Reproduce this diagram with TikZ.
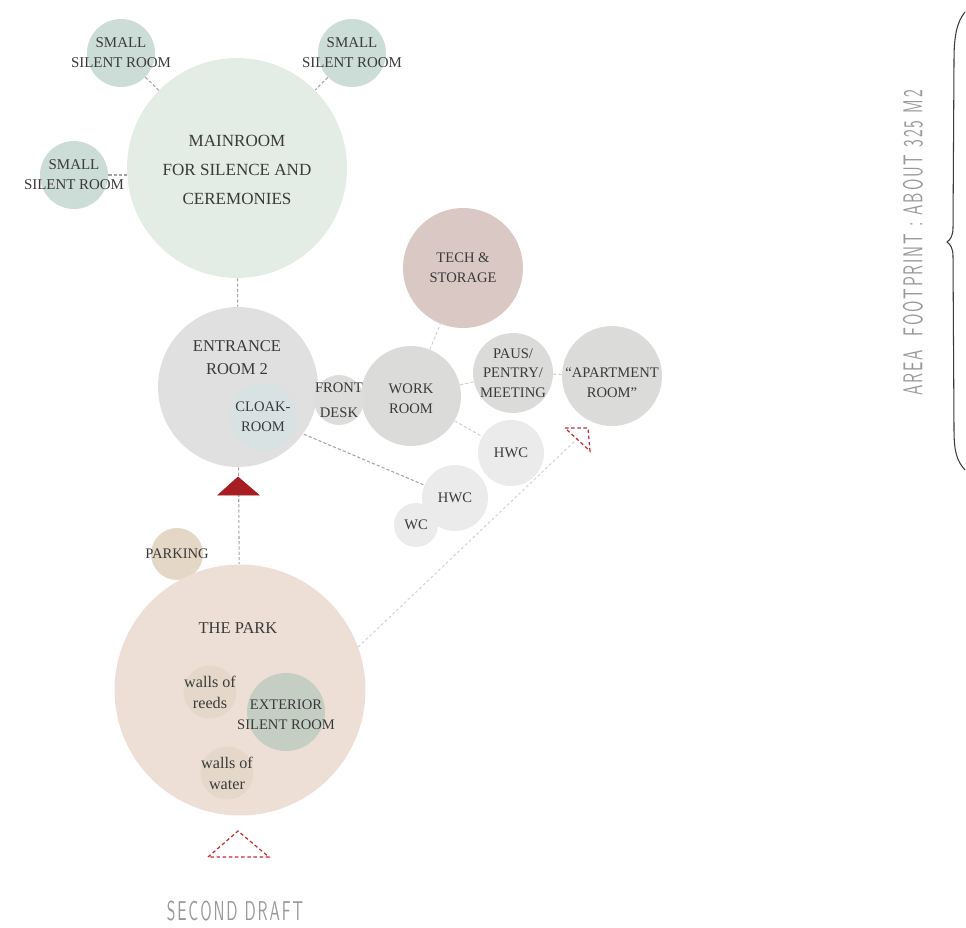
\documentclass[tikz,border=0pt]{standalone}
\usepackage{fontspec}
\setmainfont{Liberation Serif}
\newfontfamily\draftfont{lmsans10-regular.otf}[LetterSpace=12]
\usetikzlibrary{backgrounds}

\definecolor{ink}{HTML}{3A3A3A}
\definecolor{silentgreen}{HTML}{CCDCD6}
\definecolor{maingreen}{HTML}{E3ECE5}
\definecolor{entrancegrey}{HTML}{E0E0E0}
\definecolor{cloakblue}{HTML}{D9E2E3}
\definecolor{deskgrey}{HTML}{DDDEDC}
\definecolor{workgrey}{HTML}{DBDCD9}
\definecolor{techrose}{HTML}{D9C8C4}
\definecolor{wcgrey}{HTML}{EBEBEB}
\definecolor{parkbeige}{HTML}{EDDFD5}
\definecolor{parkingsand}{HTML}{E5D7C5}
\definecolor{wallsand}{HTML}{E5D8CA}
\definecolor{extgreen}{HTML}{C4CEC3}
\definecolor{entryred}{HTML}{A61E22}
\definecolor{markred}{HTML}{C42A30}
\definecolor{linkgrey}{HTML}{A3A3A3}
\definecolor{faintgrey}{HTML}{D2D2D2}
\definecolor{draftgrey}{HTML}{999999}

\begin{document}
\begin{tikzpicture}[x=0.02cm, y=-0.02cm,
  room/.style={circle, inner sep=0pt, minimum size=#1*0.04cm},
  maintxt/.style={font=\fontsize{9.7}{16.4}\selectfont, align=center, text=ink},
  bigtxt/.style={font=\fontsize{9.4}{13}\selectfont, align=center, text=ink},
  silenttxt/.style={font=\fontsize{8.5}{11.3}\selectfont, align=center, text=ink},
  roomtxt/.style={font=\fontsize{8.3}{11.2}\selectfont, align=center, text=ink},
  wallstxt/.style={font=\fontsize{9.2}{11.9}\selectfont, align=center, text=ink},
  drafttxt/.style={font=\draftfont\fontsize{15.5}{18}\selectfont, text=draftgrey, inner sep=0pt},
  link/.style={draw=linkgrey, line width=0.6pt, dash pattern=on 1.8pt off 1.2pt},
  faint/.style={draw=faintgrey, line width=0.6pt, dash pattern=on 1.8pt off 1.2pt},
  redmarkline/.style={draw=markred, line width=0.7pt, dash pattern=on 2pt off 1.5pt}]

\useasboundingbox (0,0) rectangle (966,927);

% silence rooms
\node[room=110, fill=maingreen, label={[maintxt, yshift=-0.04cm]center:MAINROOM\\FOR SILENCE AND\\CEREMONIES}] (main) at (237,168) {};
\node[room=34, fill=silentgreen, label={[silenttxt]center:SMALL\\SILENT ROOM}] (silentA) at (121,53) {};
\node[room=34, fill=silentgreen, label={[silenttxt]center:SMALL\\SILENT ROOM}] (silentB) at (352,53) {};
\node[room=34, fill=silentgreen, label={[silenttxt]center:SMALL\\SILENT ROOM}] (silentC) at (74,175) {};

% entrance and service rooms
\node[room=80, fill=entrancegrey] (entrance) at (238,387) {};
\node[bigtxt] (entrancetxt) at (237,358) {ENTRANCE\\ROOM 2};
\node[room=33.5, fill=cloakblue, label={[roomtxt]center:CLOAK-\\ROOM}] (cloak) at (263,417) {};
\node[room=50, fill=workgrey, label={[roomtxt, yshift=-0.05cm]center:WORK\\ROOM}] (work) at (411,396) {};
\node[room=25, fill=deskgrey, label={[roomtxt, font=\fontsize{8.3}{14.2}\selectfont]center:FRONT\\DESK}] (desk) at (339,400) {};
\node[room=60, fill=techrose, label={[roomtxt]center:TECH \&\\STORAGE}] (tech) at (463,268) {};
\node[room=40, fill=workgrey, label={[roomtxt]center:PAUS/\\PENTRY/\\MEETING}] (paus) at (513,373) {};
\node[room=50, fill=workgrey, label={[roomtxt, yshift=-0.14cm]center:``APARTMENT\\ROOM''}] (apartment) at (612,376) {};
\node[room=22, fill=wcgrey, label={[roomtxt]center:WC}] (wc) at (416,525) {};
\node[room=33, fill=wcgrey, label={[roomtxt]center:HWC}] (hwcA) at (511,453) {};
\node[room=33, fill=wcgrey, label={[roomtxt]center:HWC}] (hwcB) at (455,498) {};

% outside
\node[room=26, fill=parkingsand, label={[roomtxt]center:PARKING}] (parking) at (177,554) {};
\node[room=125.5, fill=parkbeige] (park) at (240,690) {};
\node[bigtxt] (parktxt) at (238,628) {THE PARK};
\node[room=26.5, fill=wallsand, label={[wallstxt]center:walls of\\reeds}] (reeds) at (210,692) {};
\node[room=39, fill=extgreen, label={[roomtxt, yshift=-0.06cm]center:EXTERIOR\\SILENT ROOM}] (exterior) at (286,712) {};
\node[room=26.5, fill=wallsand, label={[wallstxt]center:walls of\\water}] (water) at (227,773) {};

\coordinate (aptmark) at (578,438);

\begin{scope}[on background layer]
\draw[link] (silentA) -- (main);
\draw[link] (silentB) -- (main);
\draw[link] (silentC) -- (silentC -| main.west);
\draw[link] (main) -- (entrance);
\draw[link] (entrance) -- (park);
\draw[link] (cloak) -- (hwcB);
\draw[faint] (work) -- (tech);
\draw[faint] (work) -- (paus);
\draw[faint] (paus) -- (apartment);
\draw[faint] (work) -- (hwcA);
\draw[faint, dash pattern=on 1.5pt off 1.5pt] (park.20) -- (aptmark);
\end{scope}

% entries
\filldraw[entryred] (218,495) -- (238,477) -- (259,495) -- cycle;
\draw[redmarkline] (208,857) -- (238,831) -- (269,857) -- cycle;
\draw[redmarkline] (565,428) -- (588,428) -- (590,451) -- cycle;

\node[drafttxt] (draft) at (235,911) {\scalebox{0.57}[1]{SECOND DRAFT}};
\node[drafttxt, rotate=90] (area) at (913,243) {\scalebox{0.57}[1]{AREA\ \ FOOTPRINT : ABOUT 325 M2}};

% brace
\draw[ink, line width=0.6pt] (965,12) .. controls (957,22) and (954,35) .. (954,60) -- (953,228)
  .. controls (953,236) and (950,240) .. (947,242) .. controls (950,244) and (953,248) .. (953,256)
  -- (954,430) .. controls (954,452) and (957,461) .. (965,470);

\end{tikzpicture}
\end{document}
